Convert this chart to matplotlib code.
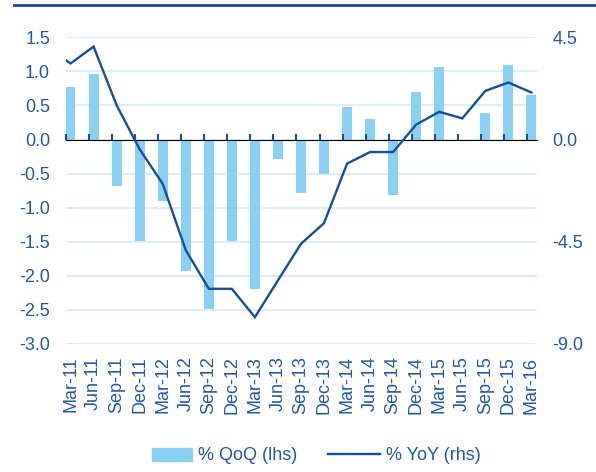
import matplotlib
matplotlib.use("Agg")
import matplotlib.pyplot as plt
import numpy as np
from matplotlib.ticker import FormatStrFormatter
from matplotlib.lines import Line2D
from matplotlib.patches import Rectangle
from matplotlib.legend_handler import HandlerPatch

plt.rcParams['font.family'] = ['Liberation Sans', 'DejaVu Sans']

categories = ['Mar-11', 'Jun-11', 'Sep-11', 'Dec-11', 'Mar-12', 'Jun-12', 'Sep-12',
              'Dec-12', 'Mar-13', 'Jun-13', 'Sep-13', 'Dec-13', 'Mar-14', 'Jun-14',
              'Sep-14', 'Dec-14', 'Mar-15', 'Jun-15', 'Sep-15', 'Dec-15', 'Mar-16']
qoq = [0.77, 0.96, -0.68, -1.49, -0.90, -1.93, -2.49, -1.49, -2.19, -0.29, -0.79,
       -0.51, 0.48, 0.30, -0.82, 0.70, 1.07, -0.02, 0.39, 1.10, 0.65]
yoy = [3.35, 4.09, 1.51, -0.43, -1.95, -4.87, -6.57, -6.57, -7.82, -6.2, -4.59,
       -3.68, -1.06, -0.55, -0.55, 0.66, 1.22, 0.93, 2.14, 2.51, 2.07]
yoy_prev = 4.05  # Dec-10, only partly visible at the left edge
left_ticks = [1.5, 1.0, 0.5, 0.0, -0.5, -1.0, -1.5, -2.0, -2.5, -3.0]
right_ticks = [4.5, 0.0, -4.5, -9.0]

DARK = '#164f9f'
TEXT = '#2358a8'
BAR = '#89d0f2'
GRID = '#cfe9f6'

fig = plt.figure(figsize=(5.96, 4.72), dpi=100)
ax = fig.add_axes([65.7/596, 1-344/472, (536.7-65.7)/596, (344-37.3)/472])
x = np.arange(len(categories))

ax.set_ylim(-3.0, 1.5)
ax.set_xlim(-0.21, len(categories) - 1 + 0.23)
ax.set_yticks(left_ticks)
ax.yaxis.set_major_formatter(FormatStrFormatter('%.1f'))
ax.grid(axis='y', color=GRID, linewidth=1.1, zorder=0)
ax.set_axisbelow(True)
for s in ax.spines.values():
    s.set_visible(False)

ax.bar(x, qoq, width=0.43, color=BAR, zorder=2, label='% QoQ (lhs)')

ax.set_xticks(x)
ax.set_xticklabels(categories, rotation=90)
ax.tick_params(axis='x', length=0, pad=9, labelsize=13, labelcolor=TEXT)
ax.tick_params(axis='y', length=0, pad=11.3, labelsize=13, labelcolor=TEXT)

# zero axis with tick marks
zero_pos = (0 - (-3.0)) / (1.5 - (-3.0))
sec = ax.secondary_xaxis(zero_pos)
sec.set_xticks(x - 0.195)
sec.set_xticklabels([])
sec.tick_params(axis='x', direction='out', length=4.5, width=1.5, color=DARK)
sec.spines['bottom'].set_color(DARK)
sec.spines['bottom'].set_linewidth(2.0)
sec.set_zorder(3)

ax2 = ax.twinx()
ax2.set_ylim(-9.0, 4.5)
ax2.set_yticks(right_ticks)
ax2.yaxis.set_major_formatter(FormatStrFormatter('%.1f'))
ax2.tick_params(axis='y', length=0, pad=11.5, labelsize=13, labelcolor=TEXT)
for s in ax2.spines.values():
    s.set_visible(False)
xl = np.concatenate([[-1], x])
yl = np.concatenate([[yoy_prev], yoy])
ax2.plot(xl, yl, color=DARK, linewidth=1.7, solid_joinstyle='miter', label='% YoY (rhs)')
ax2.set_xlim(ax.get_xlim())

# top rule
fig.add_artist(Line2D([14/596, 1.0], [1-5/472, 1-5/472], transform=fig.transFigure,
                      color=DARK, linewidth=2.0))

em = 13*100/72


def make_patch(legend, orig_handle, xdescent, ydescent, width, height, fontsize):
    w = width * 40/52
    return Rectangle((-xdescent + width - w, -ydescent), w, height)


hb = Rectangle((0, 0), 1, 1, color=BAR)
hl = Line2D([], [], color=DARK, linewidth=1.7)
fig.legend([hb, hl], ['% QoQ (lhs)', '% YoY (rhs)'], loc='center',
           bbox_to_anchor=(310/596, 1-456/472), ncol=2, frameon=False,
           fontsize=13, handlelength=52/em, handletextpad=6/em, columnspacing=31/em,
           labelcolor=TEXT, handler_map={Rectangle: HandlerPatch(patch_func=make_patch)})

fig.savefig('out.png', dpi=100)
